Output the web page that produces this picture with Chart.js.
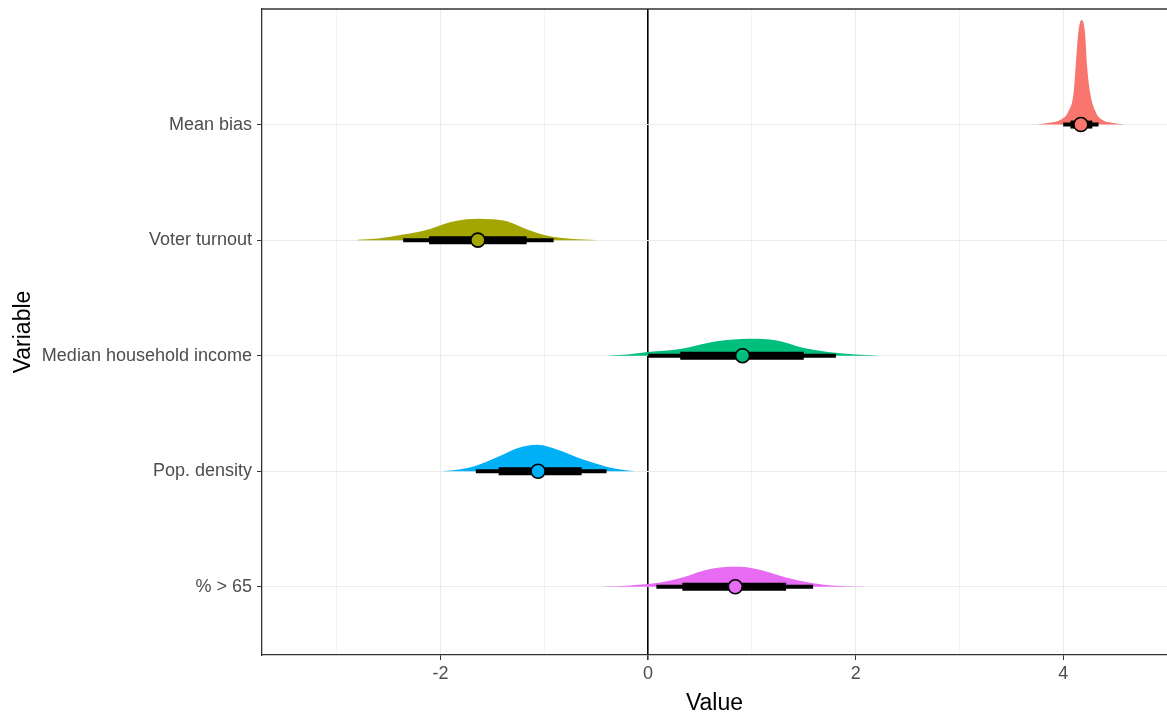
<!DOCTYPE html>
<html>
<head>
<meta charset="utf-8">
<script src="https://cdn.jsdelivr.net/npm/chart.js@4"></script>
<style>
html, body { margin: 0; padding: 0; background: #fff; overflow: hidden; }
canvas { display: block; }
</style>
</head>
<body>
<canvas id="grafico" width="1167" height="715"></canvas>
<script>
// categorias, de arriba a abajo
var categorias = ["Mean bias", "Voter turnout", "Median household income", "Pop. density", "% > 65"];
var colores = ["#F8766D", "#A3A500", "#00BF7D", "#00B0F6", "#E76BF3"];

// mediana e intervalos (66% grueso, 95% fino)
var medianas = [4.17, -1.64, 0.91, -1.06, 0.84];
var gruesoMin = [4.07, -2.11, 0.31, -1.44, 0.33];
var gruesoMax = [4.28, -1.17, 1.50, -0.64, 1.33];
var finoMin = [4.00, -2.36, 0.00, -1.66, 0.08];
var finoMax = [4.34, -0.91, 1.81, -0.40, 1.59];

// densidades (x, altura sobre la linea de la categoria)
var xMeanBias = [3.76, 3.87, 3.98, 4.05, 4.10, 4.12, 4.145, 4.177, 4.21, 4.23, 4.26, 4.31, 4.37, 4.47, 4.58];
var hMeanBias = [0.002, 0.015, 0.043, 0.115, 0.274, 0.505, 0.795, 0.905, 0.795, 0.505, 0.274, 0.115, 0.043, 0.015, 0.002];
var xTurnout = [-2.8, -2.6, -2.36, -2.1, -1.91, -1.75, -1.64, -1.5, -1.36, -1.17, -0.98, -0.75, -0.5];
var hTurnout = [0.003, 0.015, 0.048, 0.097, 0.154, 0.18, 0.186, 0.18, 0.163, 0.095, 0.04, 0.012, 0.002];
var xIngreso = [-0.38, -0.2, 0.0, 0.31, 0.66, 0.98, 1.24, 1.5, 1.81, 2.0, 2.2];
var hIngreso = [0.002, 0.01, 0.032, 0.058, 0.124, 0.147, 0.132, 0.067, 0.025, 0.01, 0.002];
var xDensidad = [-1.97, -1.82, -1.66, -1.44, -1.26, -1.07, -0.85, -0.64, -0.4, -0.25, -0.14];
var hDensidad = [0.002, 0.015, 0.048, 0.128, 0.2, 0.229, 0.18, 0.106, 0.04, 0.012, 0.002];
var xMayores = [-0.43, -0.2, 0.08, 0.33, 0.53, 0.72, 0.84, 0.95, 1.13, 1.33, 1.59, 1.8, 2.07];
var hMayores = [0.002, 0.01, 0.032, 0.08, 0.14, 0.17, 0.173, 0.17, 0.135, 0.08, 0.03, 0.01, 0.002];

var densX = [xMeanBias, xTurnout, xIngreso, xDensidad, xMayores];
var densH = [hMeanBias, hTurnout, hIngreso, hDensidad, hMayores];

// marcas del eje x
var marcasMayoresX = [-2, 0, 2, 4];
var marcasMenoresX = [-3, -1, 1, 3];

var fuente = "'Liberation Sans', Arial, sans-serif";

var datasets = [];
categorias.forEach(function(cat, i) {
    var base = categorias.length - i;
    datasets.push({
        data: densX[i].map(function(x, j) { return { x: x, y: base + densH[i][j] }; }),
        fill: { value: base },
        backgroundColor: colores[i],
        borderWidth: 0,
        pointRadius: 0,
        cubicInterpolationMode: 'monotone',
        order: 3
    });
    datasets.push({
        data: [{ x: finoMin[i], y: base }, { x: finoMax[i], y: base }],
        borderColor: '#000',
        borderWidth: 4,
        borderCapStyle: 'butt',
        pointRadius: 0,
        fill: false,
        order: 2
    });
    datasets.push({
        data: [{ x: gruesoMin[i], y: base }, { x: gruesoMax[i], y: base }],
        borderColor: '#000',
        borderWidth: 8,
        borderCapStyle: 'butt',
        pointRadius: 0,
        fill: false,
        order: 1
    });
});
datasets.push({
    data: medianas.map(function(m, i) { return { x: m, y: categorias.length - i }; }),
    showLine: false,
    pointRadius: 7,
    pointBackgroundColor: colores,
    pointBorderColor: '#000',
    pointBorderWidth: 1.6,
    order: 0
});

var bordeSuperior = {
    id: 'bordeSuperior',
    afterDraw: function(chart) {
        var a = chart.chartArea, c = chart.ctx;
        c.save();
        c.strokeStyle = '#333';
        c.lineWidth = 1.3;
        c.beginPath();
        c.moveTo(a.left, a.top);
        c.lineTo(a.right, a.top);
        c.stroke();
        c.restore();
    }
};

new Chart(document.getElementById('grafico').getContext('2d'), {
    type: 'line',
    data: { datasets: datasets },
    plugins: [bordeSuperior],
    options: {
        responsive: false,
        animation: false,
        layout: { autoPadding: false, padding: { top: 9, left: 0, right: 0, bottom: 0 } },
        plugins: { legend: { display: false }, tooltip: { enabled: false } },
        scales: {
            x: {
                type: 'linear',
                min: -3.72,
                max: 5.0,
                afterBuildTicks: function(s) {
                    s.ticks = marcasMenoresX.concat(marcasMayoresX).sort(function(a, b) { return a - b; })
                        .map(function(v) { return { value: v }; });
                },
                afterFit: function(s) {
                    s.height = 60;
                    s.paddingLeft = 0;
                    s.paddingRight = 0;
                },
                ticks: {
                    autoSkip: false,
                    maxRotation: 0,
                    padding: 5,
                    color: '#4d4d4d',
                    font: { family: fuente, size: 18, lineHeight: 1 },
                    callback: function(v) { return marcasMayoresX.indexOf(v) >= 0 ? String(v) : ''; }
                },
                grid: {
                    color: function(ctx) {
                        if (!ctx.tick) return '#ebebeb';
                        if (ctx.tick.value === 0) return '#000';
                        return marcasMayoresX.indexOf(ctx.tick.value) >= 0 ? '#ebebeb' : '#f3f3f3';
                    },
                    lineWidth: function(ctx) {
                        return ctx.tick && ctx.tick.value === 0 ? 1.6 : 1;
                    },
                    tickLength: 5,
                    tickColor: function(ctx) {
                        return ctx.tick && marcasMayoresX.indexOf(ctx.tick.value) >= 0 ? '#333' : 'rgba(0,0,0,0)';
                    }
                },
                border: { color: '#333', width: 1.3 },
                title: {
                    display: true,
                    text: 'Value',
                    color: '#000',
                    font: { family: fuente, size: 23, lineHeight: 1 },
                    padding: { top: 0, bottom: 0 }
                }
            },
            y: {
                type: 'linear',
                min: 0.41,
                max: 6.0,
                afterBuildTicks: function(s) {
                    s.ticks = categorias.map(function(c, i) { return { value: categorias.length - i }; });
                },
                afterFit: function(s) {
                    s.width = 262;
                    s.paddingTop = 0;
                    s.paddingBottom = 0;
                },
                ticks: {
                    autoSkip: false,
                    padding: 5,
                    color: '#4d4d4d',
                    font: { family: fuente, size: 18, lineHeight: 1 },
                    callback: function(v) { return categorias[categorias.length - Math.round(v)]; }
                },
                grid: { color: '#ebebeb', lineWidth: 1, tickLength: 5, tickColor: '#333' },
                border: { color: '#333', width: 1.3 },
                title: {
                    display: true,
                    text: 'Variable',
                    color: '#000',
                    font: { family: fuente, size: 23, lineHeight: 1 },
                    padding: { top: 12, bottom: 0 }
                }
            }
        }
    }
});
</script>
</body>
</html>
